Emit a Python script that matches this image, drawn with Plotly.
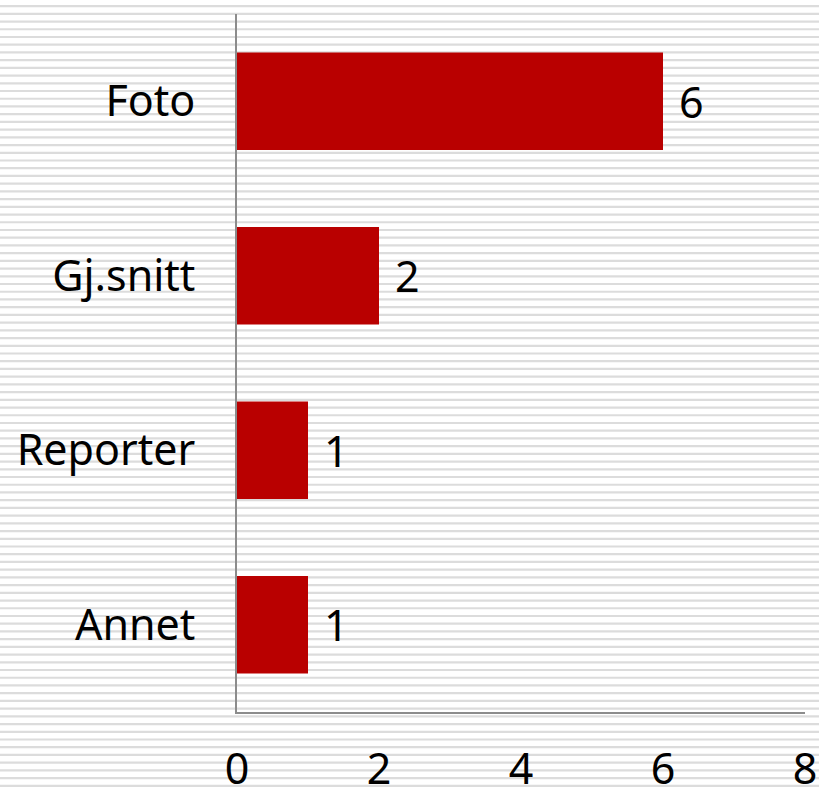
import plotly.graph_objects as go

categories = ["Foto", "Gj.snitt", "Reporter", "Annet"]
values = [6, 2, 1, 1]

W, H = 819, 788
L, R, T, B = 237, 14, 14, 76
FONT = "Noto Sans"
FS = 43

fig = go.Figure(go.Bar(
    x=values, y=categories, orientation="h",
    marker=dict(color="#b90000", line=dict(width=0)),
    cliponaxis=False,
))

# value labels to the right of each bar
for c, v in zip(categories, values):
    fig.add_annotation(x=v, y=c, text=str(v), showarrow=False,
                       xanchor="left", xshift=14,
                       font=dict(size=FS, family=FONT, color="#000000"))

# striped background (grey horizontal lines every ~7.7px)
plot_h = H - T - B
plot_w = W - L - R
shapes = []
py = 5.0
while py < H:
    y0 = (H - B - py) / plot_h
    y1 = (H - B - py - 2.2) / plot_h
    shapes.append(dict(type="rect", xref="paper", yref="paper",
                       x0=-L / plot_w, x1=1 + R / plot_w,
                       y0=y1, y1=y0, fillcolor="#dcdcdc",
                       line=dict(width=0), layer="below"))
    py += 7.72

fig.update_layout(
    width=W, height=H,
    margin=dict(l=L, r=R, t=T, b=B, autoexpand=False),
    paper_bgcolor="white", plot_bgcolor="rgba(0,0,0,0)",
    bargap=0.44,
    showlegend=False,
    shapes=shapes,
    font=dict(family=FONT, size=FS, color="#000000"),
    xaxis=dict(range=[0, 8], dtick=2, showgrid=False, zeroline=False,
               showline=True, linecolor="#8c8c8c", linewidth=2,
               ticks="", ticklabelstandoff=18, automargin=False,
               tickfont=dict(size=FS, family=FONT)),
    yaxis=dict(autorange="reversed", showgrid=False, zeroline=False,
               showline=True, linecolor="#8c8c8c", linewidth=2,
               ticks="", ticklabelstandoff=31, automargin=False,
               tickfont=dict(size=FS, family=FONT)),
)

fig.write_html("out.html", config={"displayModeBar": False},
               post_script="document.body.style.margin='0';")
